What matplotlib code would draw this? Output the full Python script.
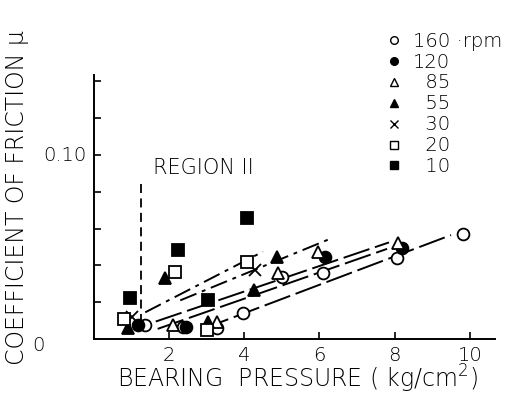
"""Coefficient of friction vs bearing pressure at several shaft speeds."""

import matplotlib
matplotlib.use("Agg")
import matplotlib.pyplot as plt
from matplotlib.lines import Line2D

plt.rcParams["font.family"] = ["DejaVu Sans"]
plt.rcParams["font.weight"] = "light"

# measured points, one pair of arrays per speed (rpm)
x_160 = [1.37, 2.38, 3.28, 3.98, 5.01, 6.1, 8.07, 9.82]
y_160 = [0.0076, 0.0065, 0.006, 0.014, 0.0337, 0.0359, 0.044, 0.057]
x_120 = [1.18, 2.45, 6.15, 8.2]
y_120 = [0.0076, 0.0065, 0.0446, 0.0495]
x_85 = [2.12, 3.28, 4.91, 5.96, 8.1]
y_85 = [0.0078, 0.0092, 0.0358, 0.0473, 0.052]
x_55 = [0.92, 1.9, 3.05, 4.25, 4.87]
y_55 = [0.006, 0.033, 0.0092, 0.0266, 0.0446]
x_30 = [1.02, 4.29]
y_30 = [0.012, 0.0375]
x_20 = [0.81, 2.17, 3.02, 4.08]
y_20 = [0.011, 0.0364, 0.005, 0.042]
x_10 = [0.97, 2.25, 3.05, 4.08]
y_10 = [0.0223, 0.0484, 0.0212, 0.0658]

speed_labels = ["160 \u00b7rpm", "120", "\u200785", "\u200755", "\u200730", "\u200720", "\u200710"]

# fitted trend lines: (x0, x1), (y0, y1)
fit_x = [(1.37, 4.5), (2.3, 6.35), (1.65, 7.85), (1.7, 7.8), (2.9, 9.5)]
fit_y = [(0.0145, 0.0475), (0.021, 0.055), (0.0095, 0.0525), (0.0055, 0.049), (0.0055, 0.0565)]

region_x = 1.25
region_y = (0.0087, 0.0864)

dashdot = (0, (9, 3, 2, 3))
longdash = (0, (14, 3))
fit_styles = [dashdot, dashdot, longdash, longdash, longdash]

fig = plt.figure(figsize=(5.13, 3.95), dpi=100)
ax = fig.add_axes([0.1827, 0.1418, 0.7823, 0.6682])

for (xa, xb), (ya, yb), ls in zip(fit_x, fit_y, fit_styles):
    ax.plot([xa, xb], [ya, yb], color="black", lw=1.4, ls=ls)

ax.plot([region_x, region_x], region_y, color="black", lw=1.3, ls=(0, (5, 3)))
ax.text(1.58, 0.093, "REGION II", fontsize=15, va="center", ha="left")

ms = 8.5
series = [
    (x_160, y_160, dict(marker="o", mfc="white", mec="black")),
    (x_120, y_120, dict(marker="o", mfc="black", mec="black")),
    (x_85, y_85, dict(marker="^", mfc="white", mec="black")),
    (x_55, y_55, dict(marker="^", mfc="black", mec="black")),
    (x_30, y_30, dict(marker="x", mfc="none", mec="black")),
    (x_20, y_20, dict(marker="s", mfc="white", mec="black")),
    (x_10, y_10, dict(marker="s", mfc="black", mec="black")),
]
handles = []
for xs, ys, style in series:
    ax.plot(xs, ys, ls="none", ms=ms, mew=1.3, **style)
    handles.append(Line2D([], [], ls="none", ms=5.5, mew=1.0, **style))

ax.set_xlim(0, 10.67)
ax.set_ylim(0, 0.1435)
ax.spines["top"].set_visible(False)
ax.spines["right"].set_visible(False)
for s in ("left", "bottom"):
    ax.spines[s].set_linewidth(1.4)

ax.set_xticks([2, 4, 6, 8, 10])
ax.set_xticklabels(["2", "4", "6", "8", "10"], fontsize=14)
ax.set_yticks([0.02, 0.04, 0.06, 0.08, 0.10, 0.12, 0.14])
ax.set_yticklabels([])
ax.tick_params(direction="in", length=5, width=1.2, pad=5)

ax.text(-0.2, 0.10, "0.10", fontsize=14, ha="right", va="center")
ax.text(-1.3, -0.0035, "0", fontsize=14, ha="right", va="center")

fig.text(0.034, 0.5, "COEFFICIENT OF FRICTION \u03bc", rotation=90,
         fontsize=17, ha="center", va="center")
fig.text(0.58, 0.04, "BEARING  PRESSURE ( kg/cm$^2$)", fontsize=17,
         ha="center", va="center")

fig.legend(handles, speed_labels, loc="upper left",
           bbox_to_anchor=(0.752, 0.92), frameon=False, fontsize=14,
           handlelength=0.8, handletextpad=0.6, labelspacing=0.1,
           borderaxespad=0, borderpad=0)

fig.savefig("out.png", dpi=100)
